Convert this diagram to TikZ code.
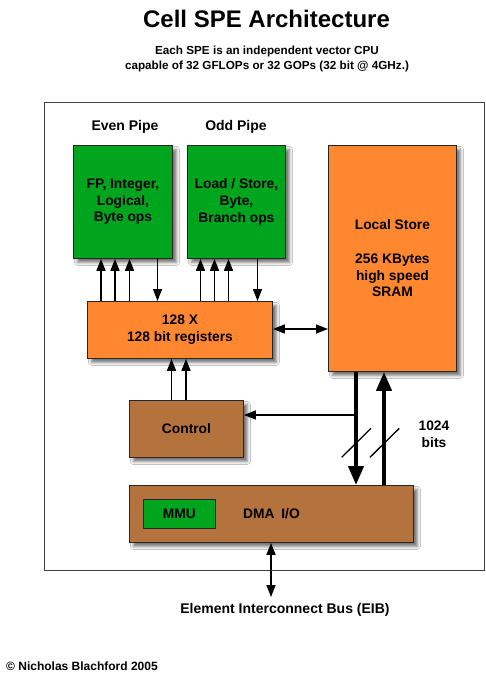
\documentclass[tikz,border=0pt]{standalone}
\usepackage{fontspec}
\setmainfont{Liberation Sans}
\usetikzlibrary{arrows.meta,shadows.blur}
\definecolor{pgreen}{RGB}{0,165,30}
\definecolor{porange}{RGB}{255,135,48}
\definecolor{pbrown}{RGB}{180,115,60}
\begin{document}
\begin{tikzpicture}[x=1pt,y=-1pt,
  boxtxt/.style={font=\bfseries\fontsize{13.8}{16.7}\selectfont},
  blk/.style={boxtxt, draw=black!85, line width=0.9pt, inner sep=0pt, anchor=north west, align=center,
    blur shadow={shadow xshift=4pt, shadow yshift=-4pt, shadow blur radius=3pt, shadow opacity=55}},
  thin/.style={line width=1.5pt, -{Triangle[width=9pt,length=12pt]}},
  thinboth/.style={line width=1.5pt, {Triangle[width=9pt,length=12pt]}-{Triangle[width=9pt,length=12pt]}},
  thick/.style={line width=4pt, -{Triangle[width=15pt,length=19pt]}},
  slash/.style={line width=1.3pt}]
\useasboundingbox[fill=white] (0,0) rectangle (486,675);

% titles
\node (title) at (266.5,19) {\bfseries\fontsize{24}{28}\selectfont Cell SPE Architecture};
\node[align=center, font=\bfseries\fontsize{11.7}{14.5}\selectfont] (sub) at (267,59)
  {Each SPE is an independent vector CPU\\capable of 32 GFLOPs or 32 GOPs (32 bit @ 4GHz.)};

% frame
\draw[black!75, line width=1pt] (44,102) rectangle (484,570);

% headers
\node[boxtxt, font=\bfseries\fontsize{14}{16}\selectfont] (hev) at (125,127) {Even Pipe};
\node[boxtxt, font=\bfseries\fontsize{14}{16}\selectfont] (hod) at (236,127) {Odd Pipe};

% blocks
\node[blk, fill=pgreen, minimum width=99pt, minimum height=113pt] (ev) at (73,145)
  {FP, Integer,\\Logical,\\Byte ops};
\node[blk, fill=pgreen, minimum width=98pt, minimum height=113pt] (od) at (187,145)
  {Load / Store,\\Byte,\\Branch ops};
\node[blk, fill=porange, minimum width=128pt, minimum height=226pt] (ls) at (328,145)
  {Local Store\\[16.7pt]256 KBytes\\high speed\\SRAM};
\node[blk, fill=porange, minimum width=185pt, minimum height=57pt] (reg) at (87,301)
  {128 X\\128 bit registers};
\node[blk, fill=pbrown, minimum width=114pt, minimum height=57pt] (ctl) at (129,400)
  {Control};
\node[blk, fill=pbrown, minimum width=284pt, minimum height=57pt] (dma) at (129,485)
  {DMA\enspace I/O};
\node[boxtxt, draw=black!85, line width=0.9pt, fill=pgreen, inner sep=0pt, anchor=north west,
  minimum width=72pt, minimum height=29pt] (mmu) at (143,499) {MMU};

% pipe connections
\foreach \x in {101,115,129.5} \draw[thin] (reg.north -| \x,0) -- (ev.south -| \x,0);
\draw[thin] (ev.south -| 157.5,0) -- (reg.north -| 157.5,0);
\foreach \x in {200.5,214.5,228.5} \draw[thin] (reg.north -| \x,0) -- (od.south -| \x,0);
\draw[thin] (od.south -| 257.5,0) -- (reg.north -| 257.5,0);

% control to registers
\foreach \x in {171.5,186} \draw[thin] (ctl.north -| \x,0) -- (reg.south -| \x,0);

% registers <-> local store
\draw[thinboth] (reg.east |- 0,329) -- (ls.west |- 0,329);

% local store <-> DMA
\draw[thick] (ls.south -| 356,0) -- (dma.north -| 356,0);
\draw[thick] (dma.north -| 384,0) -- (ls.south -| 384,0);
\coordinate (br) at (356,415);
\draw[thin] (br) -- (ctl.east |- br);

% bus width marks
\draw[slash] (341.7,457.3) -- (371,428.3);
\draw[slash] (370,457.3) -- (399.3,428.3);
\node[boxtxt, align=center] (bits) at (434,434) {1024\\bits};

% EIB
\node[font=\bfseries\fontsize{14}{16}\selectfont] (eib) at (285,610) {Element Interconnect Bus (EIB)};
\draw[thinboth] (dma.south -| 271,0) -- (271,597) coordinate (eibtop);

% copyright
\node[anchor=west, inner sep=0pt, font=\bfseries\fontsize{12}{14}\selectfont] (copy) at (6,666)
  {\textcopyright{} Nicholas Blachford 2005};
\end{tikzpicture}
\end{document}
